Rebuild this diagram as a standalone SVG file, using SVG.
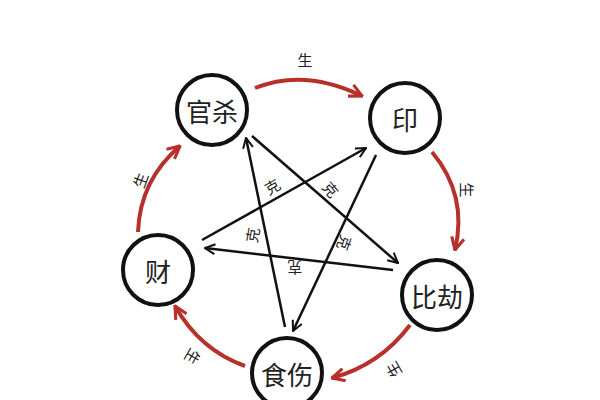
<svg xmlns="http://www.w3.org/2000/svg" width="600" height="400" viewBox="0 0 600 400">
<style>
.n circle{fill:#fff;stroke:#111;stroke-width:4}
.n text{font-family:"Noto Sans CJK SC",sans-serif;font-size:26px;fill:#222;text-anchor:middle;dominant-baseline:central}
.k{stroke:#111;stroke-width:2.5;fill:none;marker-end:url(#ak)}
.r{stroke:#b8302a;stroke-width:4;fill:none;marker-end:url(#ar)}
.l{font-family:"Noto Sans CJK SC",sans-serif;font-size:15px;fill:#222;text-anchor:middle;dominant-baseline:central}
</style>
<defs>
<marker id="ak" viewBox="0 0 12 12" refX="11" refY="6" markerWidth="12" markerHeight="12" orient="auto" markerUnits="userSpaceOnUse"><path d="M1,1 L11,6 L1,11" fill="none" stroke="#111" stroke-width="2"/></marker>
<marker id="ar" viewBox="0 0 12 12" refX="11" refY="6" markerWidth="15" markerHeight="15" orient="auto" markerUnits="userSpaceOnUse"><path d="M1,1 L11,6 L1,11" fill="none" stroke="#b8302a" stroke-width="2.5"/></marker>
</defs>
<rect width="600" height="400" fill="#fff"/>
<g id="connectors">
<path class="k" d="M252,136 L398,263"/>
<path class="k" d="M376,155 L293,331"/>
<path class="k" d="M393,270 L205,248"/>
<path class="k" d="M202,240 L366,148"/>
<path class="k" d="M285,327 L246,138"/>
<path class="r" d="M255,88 Q305,68 362,96"/>
<path class="r" d="M432,152 Q468,195 455,250"/>
<path class="r" d="M410,325 Q380,365 332,378"/>
<path class="r" d="M245,366 Q200,350 175,306"/>
<path class="r" d="M138,232 Q140,180 180,146"/>
<text class="l" x="272" y="186" transform="rotate(-30 272 186)">克</text>
<text class="l" x="331" y="189" transform="rotate(50 331 189)">克</text>
<text class="l" x="252" y="235" transform="rotate(-80 252 235)">克</text>
<text class="l" x="345" y="243" transform="rotate(110 345 243)">克</text>
<text class="l" x="295" y="268" transform="rotate(180 295 268)">克</text>
<text class="l" x="305" y="59">生</text>
<text class="l" x="467" y="190" transform="rotate(90 467 190)">生</text>
<text class="l" x="393" y="370" transform="rotate(-120 393 370)">生</text>
<text class="l" x="193" y="357" transform="rotate(120 193 357)">生</text>
<text class="l" x="140" y="180" transform="rotate(-70 140 180)">生</text>
</g>
<g id="guansha" class="n"><circle cx="212" cy="110" r="35"/><text x="212" y="110">官杀</text></g>
<g id="yin" class="n"><circle cx="405" cy="118" r="35"/><text x="405" y="118">印</text></g>
<g id="bijie" class="n"><circle cx="437" cy="295" r="35"/><text x="437" y="295">比劫</text></g>
<g id="shishang" class="n"><circle cx="287" cy="373" r="35"/><text x="287" y="373">食伤</text></g>
<g id="cai" class="n"><circle cx="158" cy="270" r="35"/><text x="158" y="270">财</text></g>
</svg>
